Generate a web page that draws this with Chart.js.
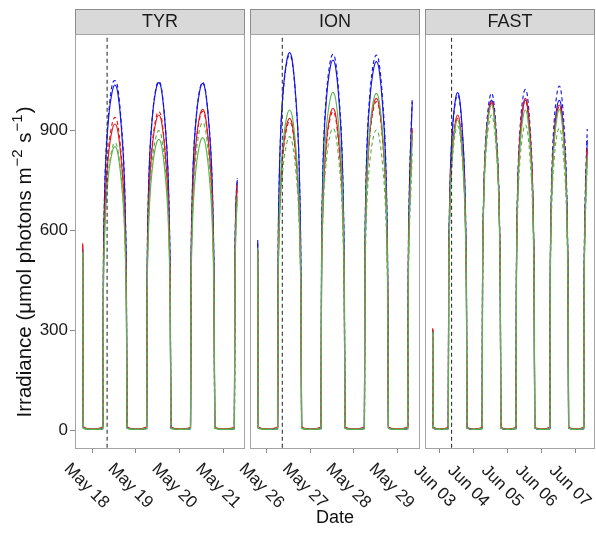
<!DOCTYPE html>
<html>
<head>
<meta charset="utf-8">
<script src="https://cdn.jsdelivr.net/npm/chart.js@4.4.1/dist/chart.umd.min.js"></script>
<style>
  body { margin: 0; background: #fff; }
  #wrap { position: relative; width: 596px; height: 535px; }
  #wrap canvas { position: absolute; left: 0; top: 0; }
</style>
</head>
<body>
<div id="wrap">
  <canvas id="tyr" width="596" height="535"></canvas>
  <canvas id="ion" width="596" height="535"></canvas>
  <canvas id="fast" width="596" height="535"></canvas>
</div>
<script>
// hours of the day the light curve is sampled at (full days)
const dayHours = [0, 5.9, 6.2, 6.7, 7.5, 9, 11, 12.5, 14, 16, 17.5, 18.3, 18.8, 19.2];
const eveningHours = [18.9, 19.2];
const yTicks = [0, 300, 600, 900];

// days are counted from May 1 (May 18 = 17, Jun 03 = 33)
const tyrDays = [17, 18, 19];
const tyrMorningHours = [0, 5.9, 6.2, 6.7, 7.5];
const tyrTicks = [17, 18, 19, 20];
const tyrStart = [17, 8.25];

const ionDays = [25, 26, 27];
const ionMorningHours = [0, 5.9, 6.2, 6.7, 7.5, 8.4];
const ionTicks = [25, 26, 27, 28];
const ionStart = [25, 8.5];

const fastDays = [33, 34, 35, 36];
const fastMorningHours = [0, 5.9, 6.2, 6.7, 7.5, 8.4];
const fastTicks = [33, 34, 35, 36, 37];
const fastStart = [33, 8.25];

// irradiance: [first evening], [each full day...], [last morning]
const tyrBlue = [
  [540, 6],
  [2, 4, 466, 662, 807, 932, 1014, 1035, 1014, 911, 776, 621, 435, 6],
  [2, 4, 469, 667, 813, 938, 1021, 1042, 1021, 917, 782, 625, 438, 6],
  [2, 4, 468, 666, 811, 936, 1019, 1040, 1019, 915, 780, 624, 437, 6],
  [2, 4, 470, 660, 750]
];
const tyrBlueDash = [
  [545, 6],
  [2, 4, 472, 671, 817, 943, 1035, 1048, 1030, 922, 786, 629, 440, 6],
  [2, 4, 471, 669, 816, 941, 1025, 1046, 1025, 920, 785, 628, 439, 6],
  [2, 4, 469, 668, 814, 939, 1022, 1043, 1022, 918, 782, 626, 438, 6],
  [2, 4, 472, 665, 755]
];
const tyrRed = [
  [560, 10],
  [3, 10, 413, 588, 716, 826, 900, 918, 900, 808, 689, 551, 386, 10],
  [3, 9, 425, 605, 737, 851, 926, 945, 926, 832, 709, 567, 397, 9],
  [3, 8, 433, 616, 750, 866, 943, 962, 943, 847, 722, 577, 404, 8],
  [3, 8, 440, 625, 732]
];
const tyrRedDash = [
  [555, 8],
  [3, 8, 422, 600, 732, 844, 919, 938, 919, 825, 704, 563, 394, 8],
  [3, 8, 430, 611, 745, 860, 936, 955, 936, 840, 716, 573, 401, 8],
  [3, 8, 430, 612, 746, 860, 937, 956, 937, 841, 717, 574, 402, 8],
  [3, 8, 438, 622, 735]
];
const tyrGreen = [
  [535, 5],
  [2, 4, 383, 544, 663, 765, 833, 850, 833, 748, 638, 510, 357, 5],
  [2, 4, 392, 558, 680, 785, 855, 872, 855, 767, 654, 523, 366, 5],
  [2, 4, 395, 561, 684, 789, 859, 877, 859, 772, 658, 526, 368, 5],
  [2, 4, 400, 585, 690]
];
const tyrGreenDash = [
  [530, 5],
  [2, 4, 388, 552, 672, 776, 845, 862, 845, 759, 647, 517, 362, 5],
  [2, 4, 404, 575, 700, 808, 880, 898, 880, 790, 674, 539, 377, 5],
  [2, 4, 415, 590, 719, 830, 904, 922, 904, 811, 692, 553, 387, 5],
  [2, 4, 410, 595, 700]
];

const ionBlue = [
  [570, 6],
  [2, 4, 509, 724, 883, 1019, 1109, 1132, 1109, 996, 849, 679, 475, 6],
  [2, 4, 500, 710, 866, 999, 1088, 1110, 1088, 977, 833, 666, 466, 6],
  [2, 4, 497, 707, 862, 995, 1083, 1105, 1083, 972, 829, 663, 464, 6],
  [2, 4, 480, 690, 850, 985]
];
const ionBlueDash = [
  [560, 6],
  [2, 4, 506, 720, 878, 1013, 1103, 1125, 1103, 990, 844, 675, 473, 6],
  [2, 4, 507, 721, 879, 1014, 1105, 1127, 1105, 992, 845, 676, 473, 6],
  [2, 4, 506, 720, 878, 1013, 1103, 1125, 1103, 990, 844, 675, 473, 6],
  [2, 4, 490, 700, 865, 998]
];
const ionRed = [
  [540, 9],
  [3, 9, 421, 598, 729, 842, 916, 935, 916, 823, 701, 561, 393, 9],
  [3, 9, 434, 618, 753, 869, 946, 965, 946, 849, 724, 579, 405, 9],
  [3, 9, 448, 637, 776, 896, 975, 995, 975, 876, 746, 597, 418, 9],
  [3, 9, 440, 630, 770, 905]
];
const ionRedDash = [
  [535, 8],
  [3, 8, 416, 592, 722, 833, 907, 925, 907, 814, 694, 555, 389, 8],
  [3, 8, 430, 611, 745, 860, 936, 955, 936, 840, 716, 573, 401, 8],
  [3, 8, 443, 630, 768, 887, 965, 985, 965, 867, 739, 591, 414, 8],
  [3, 8, 435, 622, 760, 895]
];
const ionGreen = [
  [545, 5],
  [2, 4, 432, 614, 749, 864, 941, 960, 941, 845, 720, 576, 403, 5],
  [2, 4, 456, 648, 790, 912, 993, 1013, 993, 891, 760, 608, 425, 5],
  [2, 4, 455, 646, 788, 909, 990, 1010, 990, 889, 758, 606, 424, 5],
  [2, 4, 430, 615, 755, 890]
];
const ionGreenDash = [
  [520, 5],
  [2, 4, 396, 563, 686, 792, 862, 880, 862, 774, 660, 528, 370, 5],
  [2, 4, 407, 579, 706, 815, 887, 905, 887, 796, 679, 543, 380, 5],
  [2, 4, 405, 576, 702, 810, 882, 900, 882, 792, 675, 540, 378, 5],
  [2, 4, 400, 570, 700, 830]
];

const fastBlue = [
  [300, 5],
  [2, 4, 455, 648, 789, 911, 992, 1012, 992, 891, 759, 607, 425, 5],
  [2, 4, 446, 634, 772, 891, 970, 990, 970, 871, 743, 594, 416, 5],
  [2, 4, 445, 633, 773, 892, 971, 990, 969, 870, 742, 595, 415, 5],
  [2, 4, 446, 634, 772, 890, 970, 989, 971, 872, 743, 593, 416, 5],
  [2, 4, 440, 620, 760, 870]
];
const fastBlueDash = [
  [298, 5],
  [2, 4, 452, 643, 784, 905, 985, 1005, 985, 884, 754, 603, 422, 5],
  [2, 4, 455, 646, 788, 909, 990, 1010, 990, 889, 758, 606, 424, 5],
  [2, 4, 460, 654, 797, 920, 1002, 1022, 1002, 899, 767, 613, 429, 5],
  [2, 4, 464, 660, 805, 929, 1011, 1032, 1011, 908, 774, 619, 433, 5],
  [2, 4, 455, 650, 790, 903]
];
const fastRed = [
  [305, 8],
  [3, 8, 425, 605, 737, 851, 926, 945, 926, 832, 709, 567, 397, 8],
  [3, 8, 443, 630, 768, 887, 965, 985, 965, 867, 739, 591, 414, 8],
  [3, 8, 448, 637, 776, 896, 975, 995, 975, 876, 746, 597, 418, 8],
  [3, 8, 439, 624, 761, 878, 956, 975, 956, 858, 731, 585, 410, 8],
  [3, 8, 420, 600, 735, 845]
];
const fastRedDash = [
  [302, 8],
  [3, 8, 421, 598, 729, 842, 916, 935, 916, 823, 701, 561, 393, 8],
  [3, 8, 441, 627, 764, 882, 960, 980, 960, 862, 735, 588, 412, 8],
  [3, 8, 445, 632, 771, 889, 968, 988, 968, 869, 741, 593, 415, 8],
  [3, 8, 437, 621, 757, 873, 951, 970, 951, 854, 728, 582, 407, 8],
  [3, 8, 418, 598, 730, 840]
];
const fastGreen = [
  [295, 5],
  [2, 4, 419, 595, 725, 837, 911, 930, 911, 818, 698, 558, 391, 5],
  [2, 4, 439, 624, 761, 878, 956, 975, 956, 858, 731, 585, 410, 5],
  [2, 4, 432, 614, 749, 864, 941, 960, 941, 845, 720, 576, 403, 5],
  [2, 4, 432, 615, 748, 865, 940, 961, 942, 844, 721, 575, 404, 5],
  [2, 4, 410, 585, 715, 820]
];
const fastGreenDash = [
  [290, 5],
  [2, 4, 410, 584, 711, 821, 894, 912, 894, 803, 684, 547, 383, 5],
  [2, 4, 425, 605, 737, 851, 926, 945, 926, 832, 709, 567, 397, 5],
  [2, 4, 412, 586, 714, 824, 897, 915, 897, 805, 686, 549, 384, 5],
  [2, 4, 407, 579, 706, 815, 887, 905, 887, 796, 679, 543, 380, 5],
  [2, 4, 400, 570, 695, 800]
];

const FONT = '"Liberation Sans", Arial, Helvetica, sans-serif';
const BLUE = '#1515e8', RED = '#e31a1c', GREEN = '#5ab54e';
Chart.defaults.font.family = FONT;

// time axis: first evening, full days, last morning
function buildTimes(days, morningHours) {
  const t = eveningHours.map(h => days[0] - 1 + h / 24);
  days.forEach(d => dayHours.forEach(h => t.push(d + h / 24)));
  morningHours.forEach(h => t.push(days[days.length - 1] + 1 + h / 24));
  return t;
}

function dateLabel(v) {
  return v < 31 ? 'May ' + (v + 1) : 'Jun ' + String(v - 30).padStart(2, '0');
}

function drawYTitle(ctx, cx, cy) {
  const big = '20.5px ' + FONT, small = '15px ' + FONT;
  const parts = [
    ['Irradiance (\u03bcmol photons m', big, 0],
    ['\u22122', small, 9],
    [' s', big, 0],
    ['\u22121', small, 9],
    [')', big, 0]
  ];
  let total = 0;
  parts.forEach(p => { ctx.font = p[1]; p.push(ctx.measureText(p[0]).width + (p[2] ? 2 : 0)); total += p[3]; });
  ctx.save();
  ctx.translate(cx, cy);
  ctx.rotate(-Math.PI / 2);
  ctx.fillStyle = '#111';
  ctx.textAlign = 'left';
  ctx.textBaseline = 'alphabetic';
  let x = -total / 2;
  parts.forEach(p => { ctx.font = p[1]; ctx.fillText(p[0], x + (p[2] ? 1 : 0), -p[2]); x += p[3]; });
  ctx.restore();
}

function makePanel(id, name, days, morningHours, ticks, start, series, pad, first) {
  const times = buildTimes(days, morningHours);
  const lo = times[0], hi = times[times.length - 1];
  const ex = 0.05 * (hi - lo);
  const line = (vals, color, dash) => ({
    data: [].concat(...vals).map((v, i) => ({ x: times[i], y: v })),
    borderColor: color,
    borderWidth: 1.15,
    borderDash: dash ? [4, 3] : [],
    pointRadius: 0,
    cubicInterpolationMode: 'monotone',
    fill: false
  });
  const startX = start[0] + start[1] / 24;

  const deco = {
    id: 'deco' + id,
    beforeDatasetsDraw(chart) {
      const ctx = chart.ctx, a = chart.chartArea;
      ctx.save();
      ctx.fillStyle = '#d9d9d9';
      ctx.fillRect(a.left, 9, a.right - a.left, a.top - 9);
      ctx.strokeStyle = '#8c8c8c';
      ctx.lineWidth = 1;
      ctx.strokeRect(a.left + 0.5, 9.5, a.right - a.left - 1, a.top - 9);
      ctx.fillStyle = '#1a1a1a';
      ctx.font = '18px ' + FONT;
      ctx.textAlign = 'center';
      ctx.textBaseline = 'middle';
      ctx.fillText(name, (a.left + a.right) / 2, 22);
      ctx.restore();
    },
    afterDatasetsDraw(chart) {
      const ctx = chart.ctx, a = chart.chartArea;
      ctx.save();
      ctx.strokeStyle = '#a3a3a3';
      ctx.lineWidth = 1;
      ctx.strokeRect(a.left + 0.5, a.top + 0.5, a.right - a.left - 1, a.bottom - a.top - 1);
      ctx.restore();
    },
    afterDraw(chart) {
      const ctx = chart.ctx, xs = chart.scales.x;
      ctx.save();
      ctx.fillStyle = '#1a1a1a';
      ctx.font = '17px ' + FONT;
      ctx.textAlign = 'center';
      ctx.textBaseline = 'middle';
      xs.ticks.forEach(t => {
        const px = xs.getPixelForValue(t.value);
        ctx.save();
        ctx.translate(px - 5.5, 486);
        ctx.rotate(Math.PI / 4);
        ctx.fillText(dateLabel(t.value), 0, 0);
        ctx.restore();
      });
      if (first) {
        ctx.font = '18px ' + FONT;
        ctx.fillStyle = '#111';
        ctx.fillText('Date', 335, 518);
        drawYTitle(ctx, 31, 262);
      }
      ctx.restore();
    }
  };

  return new Chart(document.getElementById(id), {
    type: 'line',
    data: {
      datasets: [
        { data: [{ x: startX, y: -200 }, { x: startX, y: 1400 }], borderColor: '#333', borderWidth: 1.1, borderDash: [4, 3], pointRadius: 0 },
        line(series[4], GREEN, false),
        line(series[5], GREEN, true),
        line(series[2], RED, false),
        line(series[3], RED, true),
        line(series[0], BLUE, false),
        line(series[1], BLUE, true)
      ]
    },
    options: {
      responsive: false,
      animation: false,
      events: [],
      layout: { padding: pad },
      plugins: { legend: { display: false }, tooltip: { enabled: false } },
      scales: {
        x: {
          type: 'linear',
          min: lo - ex,
          max: hi + ex,
          afterBuildTicks: s => { s.ticks = ticks.map(v => ({ value: v })); },
          afterFit: s => { s.height = 86; },
          grid: { drawOnChartArea: false, drawTicks: true, tickLength: 4, tickColor: '#8c8c8c' },
          border: { display: false },
          ticks: { display: false }
        },
        y: {
          display: first,
          min: -57,
          max: 1188,
          afterBuildTicks: s => { s.ticks = yTicks.map(v => ({ value: v })); },
          afterFit: s => { s.width = first ? 75 : 0; },
          grid: { drawOnChartArea: false, drawTicks: true, tickLength: 5, tickColor: '#8c8c8c' },
          border: { display: false },
          ticks: { padding: 2, color: '#1a1a1a', font: { size: 17 }, callback: v => String(v) }
        }
      }
    },
    plugins: [deco]
  });
}

makePanel('tyr', 'TYR', tyrDays, tyrMorningHours, tyrTicks, tyrStart,
  [tyrBlue, tyrBlueDash, tyrRed, tyrRedDash, tyrGreen, tyrGreenDash],
  { left: 0, right: 351, top: 34, bottom: 0 }, true);
makePanel('ion', 'ION', ionDays, ionMorningHours, ionTicks, ionStart,
  [ionBlue, ionBlueDash, ionRed, ionRedDash, ionGreen, ionGreenDash],
  { left: 250, right: 176, top: 34, bottom: 0 }, false);
makePanel('fast', 'FAST', fastDays, fastMorningHours, fastTicks, fastStart,
  [fastBlue, fastBlueDash, fastRed, fastRedDash, fastGreen, fastGreenDash],
  { left: 425, right: 1, top: 34, bottom: 0 }, false);
</script>
</body>
</html>
